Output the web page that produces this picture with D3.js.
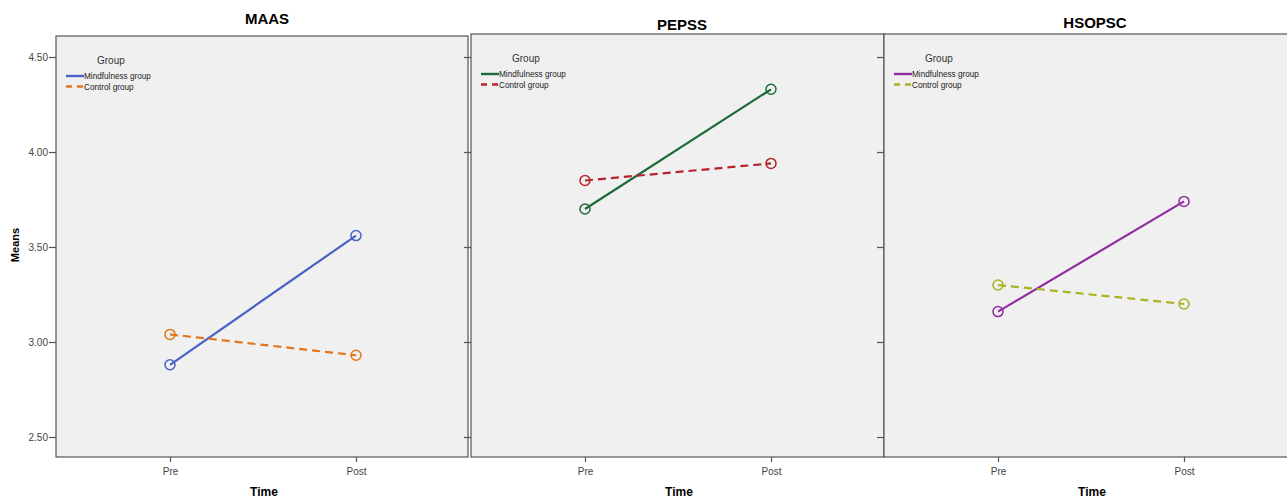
<!DOCTYPE html>
<html>
<head>
<meta charset="utf-8">
<script src="https://cdn.jsdelivr.net/npm/d3@7"></script>
<style>
  body { margin: 0; background: #fff; }
  svg { display: block; font-family: "Liberation Sans", Arial, sans-serif; }
</style>
</head>
<body>
<svg width="1287" height="499"></svg>
<script>
// chart data
var panelTitles = ["MAAS", "PEPSS", "HSOPSC"];
var timePoints = ["Pre", "Post"];
var groupNames = ["Mindfulness group", "Control group"];
var yTicks = [2.50, 3.00, 3.50, 4.00, 4.50];

var maasMindfulness = [2.88, 3.56];
var maasControl = [3.04, 2.93];
var pepssMindfulness = [3.70, 4.33];
var pepssControl = [3.85, 3.94];
var hsopscMindfulness = [3.16, 3.74];
var hsopscControl = [3.30, 3.20];

var panelSeries = [
  [maasMindfulness, maasControl],
  [pepssMindfulness, pepssControl],
  [hsopscMindfulness, hsopscControl]
];
var panelColors = [
  ["#4a62c4", "#e2761c"],
  ["#1c6b38", "#b8232a"],
  ["#8f2e9f", "#aab321"]
];

// layout
var panelBoxes = [
  {left: 56, right: 468, top: 36, titleY: 24},
  {left: 471, right: 884, top: 34, titleY: 30},
  {left: 884, right: 1290, top: 34, titleY: 28}
];
var bottom = 457;

var svg = d3.select("svg");

var y = d3.scaleLinear().domain([2.5, 4.5]).range([437, 57]);

function drawPanel(i) {
  var box = panelBoxes[i];
  var g = svg.append("g");

  g.append("rect")
      .attr("x", box.left)
      .attr("y", box.top)
      .attr("width", box.right - box.left)
      .attr("height", bottom - box.top)
      .attr("fill", "#f0f0f0")
      .attr("stroke", "#555")
      .attr("stroke-width", 1.2);

  var x = d3.scalePoint()
      .domain(timePoints)
      .range([box.left + 114, box.left + 300]);

  // y axis ticks (labels only on the first panel)
  var yAxis = d3.axisLeft(y)
      .tickValues(yTicks)
      .tickSize(7)
      .tickSizeOuter(0)
      .tickFormat(i === 0 ? d3.format(".2f") : "");
  var ya = g.append("g")
      .attr("transform", "translate(" + box.left + ",0)")
      .call(yAxis);
  ya.select(".domain").remove();
  ya.selectAll("line").attr("stroke", "#555").attr("stroke-width", 1.2);
  ya.selectAll("text")
      .attr("x", -8)
      .attr("fill", "#444")
      .style("font-size", "10px");

  // x axis
  var xa = g.append("g")
      .attr("transform", "translate(0," + bottom + ")")
      .call(d3.axisBottom(x).tickSize(5).tickSizeOuter(0));
  xa.select(".domain").remove();
  xa.selectAll("line").attr("stroke", "#555").attr("stroke-width", 1.2);
  xa.selectAll("text")
      .attr("y", 11)
      .attr("fill", "#444")
      .style("font-size", "10px");

  // titles
  g.append("text")
      .attr("x", x("Pre") + 97)
      .attr("y", box.titleY)
      .attr("text-anchor", "middle")
      .style("font-size", "15px")
      .style("font-weight", "bold")
      .text(panelTitles[i]);

  g.append("text")
      .attr("x", x("Pre") + 94)
      .attr("y", 496)
      .attr("text-anchor", "middle")
      .style("font-size", "12px")
      .style("font-weight", "bold")
      .text("Time");

  // lines and markers
  var line = d3.line()
      .x(function(d, k) { return x(timePoints[k]); })
      .y(function(d) { return y(d); });

  panelSeries[i].forEach(function(values, s) {
    var col = panelColors[i][s];
    g.append("path")
        .datum(values)
        .attr("d", line)
        .attr("fill", "none")
        .attr("stroke", col)
        .attr("stroke-width", 2.2)
        .attr("stroke-dasharray", s === 1 ? "8,5" : null);
    g.selectAll(".pt" + s)
      .data(values)
      .enter().append("circle")
        .attr("cx", function(d, k) { return x(timePoints[k]); })
        .attr("cy", function(d) { return y(d); })
        .attr("r", 5)
        .attr("fill", "none")
        .attr("stroke", col)
        .attr("stroke-width", 1.5);
  });

  // legend
  var lg = g.append("g").attr("transform", "translate(" + (box.left + 10) + "," + box.top + ")");
  lg.append("text")
      .attr("x", 31)
      .attr("y", 28)
      .attr("fill", "#333")
      .style("font-size", "10px")
      .text("Group");
  groupNames.forEach(function(name, s) {
    var ly = 40 + s * 10.5;
    lg.append("line")
        .attr("x1", 0).attr("x2", 18)
        .attr("y1", ly).attr("y2", ly)
        .attr("stroke", panelColors[i][s])
        .attr("stroke-width", 2.4)
        .attr("stroke-dasharray", s === 1 ? "6,5" : null);
    lg.append("text")
        .attr("x", 18)
        .attr("y", ly + 3)
        .attr("fill", "#222")
        .style("font-size", "8.2px")
        .text(name);
  });
}

panelTitles.forEach(function(t, i) { drawPanel(i); });

svg.append("text")
    .attr("transform", "translate(19,245) rotate(-90)")
    .attr("text-anchor", "middle")
    .style("font-size", "11px")
    .style("font-weight", "bold")
    .text("Means");
</script>
</body>
</html>
